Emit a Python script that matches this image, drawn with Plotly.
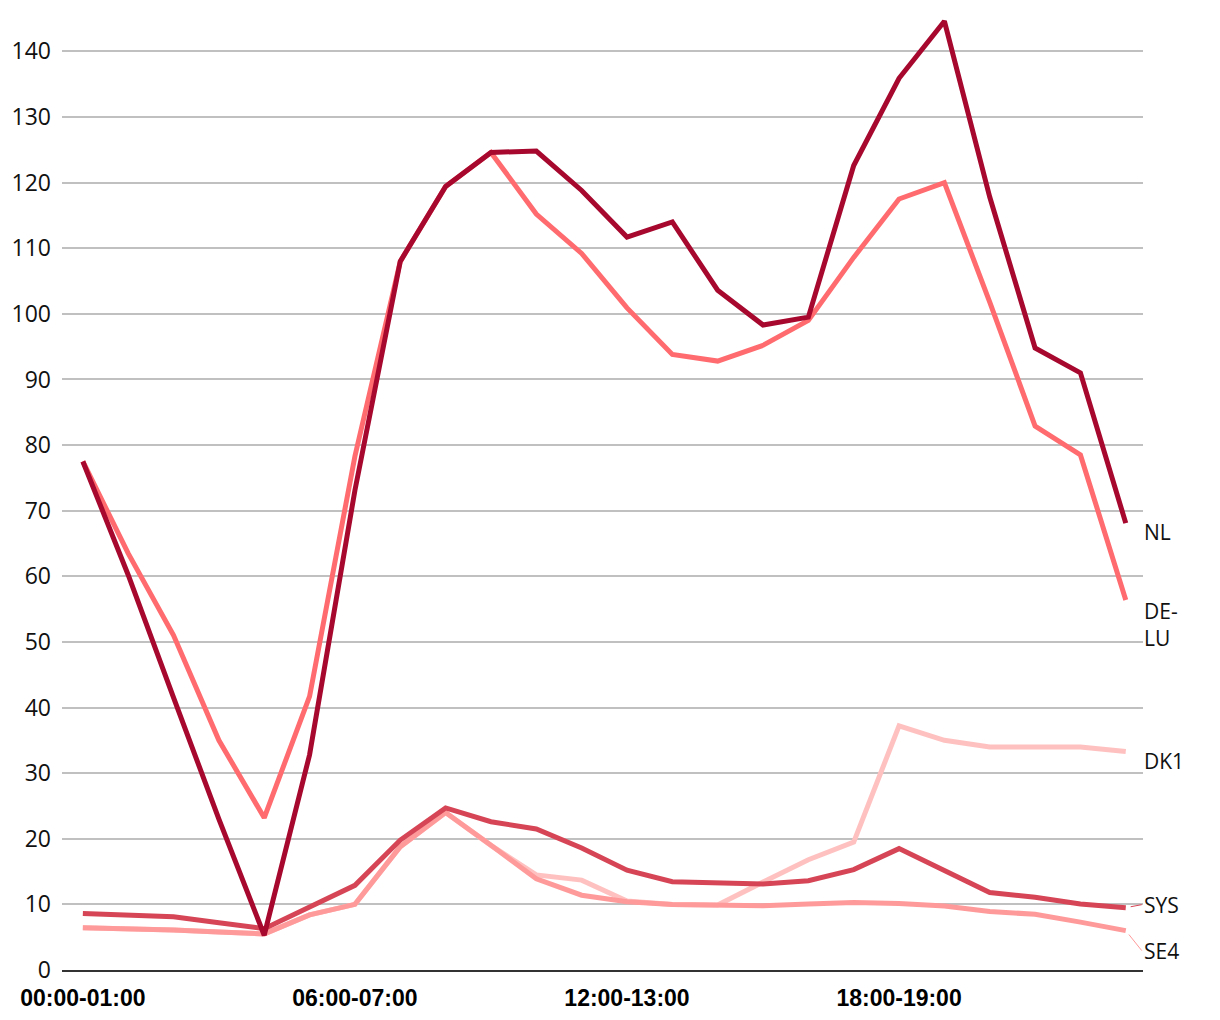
import plotly.graph_objects as go

# timer i døgnet
hours = [f"{h:02d}:00-{h + 1:02d}:00" for h in range(24)]

nl = [77.5, 60.2, 41.5, 23.0, 5.3, 32.8, 73.1, 108.0, 119.4, 124.6, 124.8, 118.8,
      111.7, 114.0, 103.6, 98.3, 99.5, 122.6, 135.9, 144.6, 117.8, 94.8, 91.0, 68.1]
de_lu = [77.5, 63.5, 51.0, 35.0, 23.2, 41.7, 78.3, 108.0, 119.4, 124.6, 115.2, 109.2,
         100.9, 93.8, 92.8, 95.2, 99.0, 108.6, 117.5, 120.0, 101.8, 82.9, 78.5, 56.4]
dk1 = [6.45, 6.3, 6.1, 5.8, 5.5, 8.4, 10.0, 18.8, 24.0, 19.0, 14.5, 13.7,
       10.5, 10.0, 9.9, 13.4, 16.8, 19.5, 37.2, 35.0, 34.0, 34.0, 34.0, 33.3]
sys_ = [8.6, 8.35, 8.1, 7.2, 6.3, 9.6, 12.9, 19.8, 24.7, 22.6, 21.5, 18.6,
        15.2, 13.45, 13.3, 13.1, 13.6, 15.3, 18.5, 15.1, 11.8, 11.1, 10.05, 9.5]
se4 = [6.45, 6.3, 6.1, 5.8, 5.5, 8.4, 10.0, 18.8, 24.0, 19.0, 13.9, 11.4,
       10.4, 10.0, 9.9, 9.8, 10.05, 10.3, 10.15, 9.75, 8.9, 8.5, 7.3, 6.0]

# tegnerekkefølge: bakerst først. (navn, verdier, farge, flytt etikett, strek til etikett)
series = [
    ("DK1", dk1, "#ffc1c0", -9, False),
    ("SE4", se4, "#ff9a9a", -20, True),
    ("SYS", sys_, "#d64555", 3, True),
    ("DE-<br>LU", de_lu, "#ff6b6e", -25, False),
    ("NL", nl, "#a6082e", -9, False),
]

fig = go.Figure()
for name, vals, color, shift, connector in series:
    fig.add_trace(go.Scatter(x=hours, y=vals, mode="lines", name=name.replace("<br>", ""),
                             line=dict(color=color, width=5), showlegend=False))
    label_font = dict(family="Open Sans", size=21, color="#111")
    if connector:
        # etiketten er flyttet, så en liten strek viser hvilken linje den hører til
        fig.add_annotation(x=hours[-1], y=vals[-1], text=name, showarrow=True,
                           ax=16, ay=-shift, xanchor="left", yanchor="middle",
                           arrowhead=0, arrowwidth=1, arrowcolor=color,
                           standoff=5, font=label_font)
    else:
        fig.add_annotation(x=hours[-1], y=vals[-1], text=name, showarrow=False,
                           xanchor="left", yanchor="middle", align="left",
                           xshift=16, yshift=shift, font=label_font)

# siden har 8px kant, så figuren gjøres litt mindre
fig.update_layout(
    width=1212, height=1012,
    margin=dict(l=54, r=77, t=4, b=50),
    plot_bgcolor="white", paper_bgcolor="white",
    xaxis=dict(type="category", range=[-0.46, 23.38], tickvals=hours[::6],
               showgrid=False, showline=True, linecolor="#333", linewidth=2,
               ticks="", ticklabelstandoff=6,
               tickfont=dict(family="Liberation Sans", size=23, color="#000",
                             weight="bold")),
    yaxis=dict(range=[0, 146], dtick=10, showgrid=True, gridcolor="#c0c0c0", gridwidth=1.5,
               zeroline=False, ticks="", ticklabelstandoff=10,
               tickfont=dict(family="Open Sans", size=23, color="#111")),
)

fig.write_html("out.html")
